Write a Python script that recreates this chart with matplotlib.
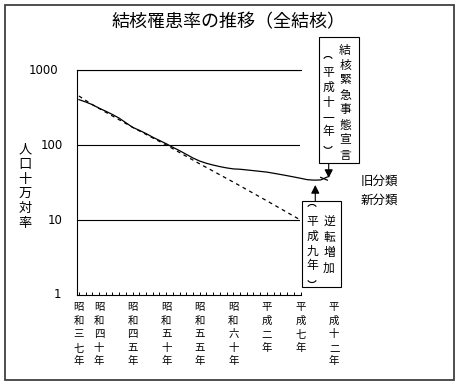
import matplotlib.pyplot as plt
from matplotlib.patches import Rectangle, Arc
from matplotlib.transforms import blended_transform_factory

plt.rcParams['font.family'] = ['Noto Sans CJK JP', 'DejaVu Sans']

# 旧分類 (solid)
years_old = list(range(1962, 2000))
rate_old = [403, 375, 345, 310, 282, 255, 228, 198, 172, 157,
            142, 127, 115, 104, 93, 84, 75, 67, 61, 57,
            54, 51.5, 49.5, 48, 47.5, 46.5, 45.5, 44.5, 43.5, 42,
            40.5, 39, 37.5, 36, 34.5, 34, 34.2, 37.5]
# 新分類 (short solid piece at the end)
years_new = [1998, 1999]
rate_new = [37, 34]
# trend (dashed)
years_trend = [1962, 1964, 1970, 1975, 1980, 1985, 1990, 1995]
rate_trend = [450, 345, 172, 100, 56, 32, 18, 10]

tick_years = [1962, 1965, 1970, 1975, 1980, 1985, 1990, 1995, 2000]
tick_labels = ['昭和三七年', '昭和四十年', '昭和四五年', '昭和五十年', '昭和五五年',
               '昭和六十年', '平成二年', '平成七年', '平成十二年']
y_values = [1000, 100, 10, 1]
y_labels = ['1000', '100', '10', '1']

W, H = 460, 386
fig = plt.figure(figsize=(W / 100, H / 100), dpi=100)

def fx(px):
    return px / W

def fy(py):
    return 1 - py / H

def vtext(s, xpx, y0, step, size):
    # vertical writing; brackets drawn as small arcs (︵ ︶)
    for i, ch in enumerate(s):
        y = y0 + i * step
        if ch == '（':
            fig.add_artist(Arc((fx(xpx), fy(y + 2)), 9 / W, 7 / H, theta1=20, theta2=160,
                               transform=fig.transFigure, lw=0.8, color='black'))
        elif ch == '）':
            fig.add_artist(Arc((fx(xpx), fy(y - 2)), 9 / W, 7 / H, theta1=200, theta2=340,
                               transform=fig.transFigure, lw=0.8, color='black'))
        else:
            fig.text(fx(xpx), fy(y), ch, ha='center', va='center', fontsize=size)

# outer frame
fig.add_artist(Rectangle((fx(5), fy(380)), 449 / W, 375 / H, transform=fig.transFigure,
                         fill=False, ec='#404040', lw=1.3))

ax = fig.add_axes([fx(76.9), fy(295), (300.5 - 76.9) / W, (295 - 70) / H])
ax.set_yscale('log')
ax.set_ylim(1, 1000)
ax.set_xlim(1961.7, 1995)

for v in [10, 100, 1000]:
    ax.axhline(v, color='black', lw=0.8)

ax.plot(years_old, rate_old, color='black', lw=0.9, clip_on=False)
ax.plot(years_new, rate_new, color='black', lw=0.9, clip_on=False)
ax.plot(years_trend, rate_trend, color='black', lw=0.9, linestyle=(0, (3, 3)), clip_on=False)

ax.spines['right'].set_visible(False)
for s in ['left', 'bottom', 'top']:
    ax.spines[s].set_linewidth(0.8)
ax.set_xticks(range(1962, 1996))
ax.set_xticklabels([])
ax.tick_params(axis='x', direction='in', length=2, width=0.7)
ax.set_yticks([])
ax.minorticks_off()
ax.set_yticks([], minor=True)

# y tick labels
ytr = blended_transform_factory(fig.transFigure, ax.transData)
ylab_x = [43.5, 52, 55, 57.5]
for v, lab, xp in zip(y_values, y_labels, ylab_x):
    ax.text(fx(xp), v, lab, transform=ytr, ha='center', va='center', fontsize=8.5,
            family='DejaVu Sans', clip_on=False)

# x tick labels (vertical)
xtr = blended_transform_factory(ax.transData, fig.transFigure)
for yr, lab in zip(tick_years, tick_labels):
    for i, ch in enumerate(lab):
        ax.text(yr, fy(307 + i * 13.6), ch, transform=xtr, ha='center', va='center',
                fontsize=7.5, clip_on=False)

# title and axis label
fig.text(fx(229), fy(22), '結核罹患率の推移（全結核）', ha='center', va='center', fontsize=13)
vtext('人口十万対率', 25, 150, 14.6, 9.5)

fig.text(fx(379), fy(181), '旧分類', ha='center', va='center', fontsize=9)
fig.text(fx(379), fy(200), '新分類', ha='center', va='center', fontsize=9)

# annotation boxes
fig.add_artist(Rectangle((fx(319), fy(163)), 40 / W, 126 / H, transform=fig.transFigure,
                         fc='white', ec='black', lw=0.8))
vtext('結核緊急事態宣言', 345, 50, 15, 8.5)
vtext('（平成十一年）', 328, 58, 14.8, 8.5)

fig.add_artist(Rectangle((fx(302), fy(287)), 39 / W, 86 / H, transform=fig.transFigure,
                         fc='white', ec='black', lw=0.8))
vtext('（平成九年）', 312, 206, 15, 8.5)
vtext('逆転増加', 329, 222, 15.3, 8.5)

arrow = dict(arrowstyle='-|>,head_length=0.5,head_width=0.25', color='black', lw=0.8,
             mutation_scale=10, shrinkA=0, shrinkB=0)
ax.annotate('', xy=(1999.2, 36.3), xytext=(1999.2, fy(163)), textcoords=xtr,
            arrowprops=arrow, annotation_clip=False)
ax.annotate('', xy=(1997.2, 29.3), xytext=(1997.2, fy(201)), textcoords=xtr,
            arrowprops=arrow, annotation_clip=False)

fig.savefig('out.png', dpi=100)
